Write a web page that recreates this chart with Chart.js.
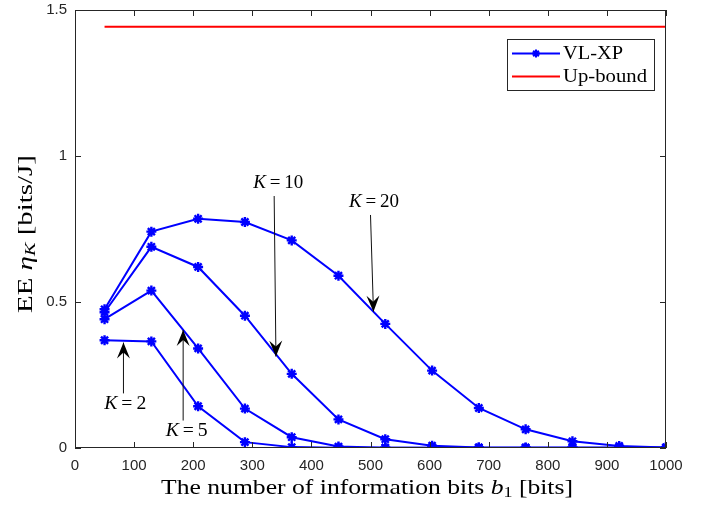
<!DOCTYPE html>
<html>
<head>
<meta charset="utf-8">
<script src="https://cdn.jsdelivr.net/npm/chart.js@4.4.0/dist/chart.umd.min.js"></script>
<style>
  html, body { margin: 0; padding: 0; background: #fff; }
  #wrap { width: 709px; height: 506px; }
</style>
</head>
<body>
<div id="wrap"><canvas id="eeChart" width="709" height="506"></canvas></div>
<script>
// number of information bits b1
const bits = [50, 129.2, 208.3, 287.5, 366.7, 445.8, 525, 604.2, 683.3, 762.5, 841.7, 920.8, 1000];

// EE for each K (VL-XP)
const eeK20 = [0.475, 0.741, 0.785, 0.774, 0.711, 0.590, 0.425, 0.265, 0.137, 0.064, 0.023, 0.007, 0.002];
const eeK10 = [0.465, 0.689, 0.620, 0.453, 0.254, 0.098, 0.030, 0.008, 0.002, 0.001, 0.001, 0.001, 0.001];
const eeK5  = [0.441, 0.539, 0.341, 0.135, 0.037, 0.005, 0.001, 0.001, 0.001, 0.001, 0.001, 0.001, 0.001];
const eeK2  = [0.369, 0.365, 0.143, 0.020, 0.003, 0.001, 0.001, 0.001, 0.001, 0.001, 0.001, 0.001, 0.001];

// upper bound
const upBoundX = [50, 1000];
const upBoundY = [1.443, 1.443];

const xTicks = [0, 100, 200, 300, 400, 500, 600, 700, 800, 900, 1000];
const yTicks = [0, 0.5, 1, 1.5];

// arrow annotations: label position, arrow tail and head (data units)
const annotations = [
  { label: '2',  tx: 85,  ty: 0.150, x0: 82,  y0: 0.187, x1: 82,  y1: 0.361 },
  { label: '5',  tx: 189, ty: 0.059, x0: 183, y0: 0.094, x1: 183, y1: 0.404 },
  { label: '10', tx: 344, ty: 0.906, x0: 337, y0: 0.863, x1: 340, y1: 0.313 },
  { label: '20', tx: 506, ty: 0.840, x0: 500, y0: 0.798, x1: 505, y1: 0.467 }
];

const BLUE = '#0000FF';
const RED = '#FF0000';
const AXIS = '#262626';
const SERIF = '"Liberation Serif", "DejaVu Serif", serif';
const SANS = '"Liberation Sans", Arial, sans-serif';

function toPoints(xs, ys) {
  return xs.map((x, i) => ({ x: x, y: ys[i] }));
}

function blueSeries(values) {
  return {
    data: toPoints(bits, values),
    borderColor: BLUE,
    backgroundColor: BLUE,
    borderWidth: 2,
    pointStyle: 'star',
    pointRadius: 5,
    pointBorderWidth: 2.4,
    showLine: true
  };
}

function setFont(ctx, p, size) {
  const s = p.sub ? size * 0.7 : size;
  ctx.font = (p.italic ? 'italic ' : '') + s + 'px ' + SERIF;
}

function richWidth(ctx, parts, size) {
  let w = 0;
  parts.forEach(p => { setFont(ctx, p, size); w += ctx.measureText(p.t).width; });
  return w;
}

// draws text pieces (normal / italic / subscript), centred on (x, y),
// stretched sideways so the run is `width` px wide (serif font is narrower than the original)
function drawRich(ctx, parts, x, y, size, width) {
  const w = richWidth(ctx, parts, size);
  const k = width ? width / w : 1;
  ctx.save();
  ctx.translate(x, y);
  ctx.scale(k, 1);
  let cx = -w / 2;
  parts.forEach(p => {
    setFont(ctx, p, size);
    ctx.fillText(p.t, cx, p.sub ? size * 0.25 : 0);
    cx += ctx.measureText(p.t).width;
  });
  ctx.restore();
}

function arrowHead(ctx, x0, y0, x1, y1) {
  const ang = Math.atan2(y1 - y0, x1 - x0);
  const len = 16, half = 6.5, back = 10;
  ctx.save();
  ctx.translate(x1, y1);
  ctx.rotate(ang);
  ctx.beginPath();
  ctx.moveTo(0, 0);
  ctx.lineTo(-len, -half);
  ctx.lineTo(-back, 0);
  ctx.lineTo(-len, half);
  ctx.closePath();
  ctx.fill();
  ctx.restore();
}

const decorPlugin = {
  id: 'decor',
  afterDraw(chart) {
    const ctx = chart.ctx;
    const a = chart.chartArea;
    const xs = chart.scales.x, ys = chart.scales.y;
    ctx.save();

    // box and inward ticks
    ctx.strokeStyle = AXIS;
    ctx.lineWidth = 1;
    ctx.strokeRect(a.left + 0.5, a.top + 0.5, a.right - a.left - 1, a.bottom - a.top - 1);
    ctx.beginPath();
    xTicks.forEach(v => {
      const px = Math.round(xs.getPixelForValue(v)) + 0.5;
      ctx.moveTo(px, a.bottom); ctx.lineTo(px, a.bottom - 6);
      ctx.moveTo(px, a.top); ctx.lineTo(px, a.top + 6);
    });
    yTicks.forEach(v => {
      const py = Math.round(ys.getPixelForValue(v)) + 0.5;
      ctx.moveTo(a.left, py); ctx.lineTo(a.left + 6, py);
      ctx.moveTo(a.right, py); ctx.lineTo(a.right - 6, py);
    });
    ctx.stroke();

    // annotations
    ctx.fillStyle = '#000';
    ctx.strokeStyle = '#111';
    ctx.textBaseline = 'middle';
    ctx.textAlign = 'left';
    annotations.forEach(n => {
      const x0 = xs.getPixelForValue(n.x0), y0 = ys.getPixelForValue(n.y0);
      const x1 = xs.getPixelForValue(n.x1), y1 = ys.getPixelForValue(n.y1);
      ctx.lineWidth = 1;
      ctx.beginPath();
      ctx.moveTo(x0, y0);
      ctx.lineTo(x1, y1);
      ctx.stroke();
      arrowHead(ctx, x0, y0, x1, y1);
      const parts = [{ t: 'K', italic: true }, { t: '\u2009=\u2009' }, { t: n.label }];
      drawRich(ctx, parts, xs.getPixelForValue(n.tx), ys.getPixelForValue(n.ty), 18, n.label.length > 1 ? 50 : 42);
    });

    // legend
    const lx = 507, ly = 39, lw = 147, lh = 51;
    ctx.fillStyle = '#fff';
    ctx.fillRect(lx, ly, lw, lh);
    ctx.strokeStyle = AXIS;
    ctx.lineWidth = 1;
    ctx.strokeRect(lx + 0.5, ly + 0.5, lw, lh);
    const entries = [
      { name: 'VL-XP', color: BLUE, marker: true, y: 53.5, w: 60 },
      { name: 'Up-bound', color: RED, marker: false, y: 76.5, w: 84 }
    ];
    entries.forEach(e => {
      ctx.strokeStyle = e.color;
      ctx.lineWidth = 2;
      ctx.beginPath();
      ctx.moveTo(512, e.y); ctx.lineTo(560, e.y);
      ctx.stroke();
      if (e.marker) {
        ctx.fillStyle = e.color;
        Chart.helpers.drawPoint(ctx, { pointStyle: 'star', radius: 4, borderWidth: 2 }, 536, e.y);
      }
      ctx.fillStyle = '#000';
      drawRich(ctx, [{ t: e.name }], 563 + e.w / 2, e.y + 1, 18, e.w);
    });

    // axis titles
    ctx.fillStyle = '#000';
    const xParts = [{ t: 'The number of information bits ' }, { t: 'b', italic: true }, { t: '1', sub: true }, { t: ' [bits]' }];
    drawRich(ctx, xParts, 367, 488, 21, 412);

    const yParts = [{ t: 'EE ' }, { t: 'η', italic: true }, { t: 'K', italic: true, sub: true }, { t: ' [bits/J]' }];
    ctx.save();
    ctx.translate(26, 234);
    ctx.rotate(-Math.PI / 2);
    drawRich(ctx, yParts, 0, 0, 21, 158);
    ctx.restore();

    ctx.restore();
  }
};

new Chart(document.getElementById('eeChart'), {
  type: 'scatter',
  data: {
    datasets: [
      blueSeries(eeK20),
      blueSeries(eeK10),
      blueSeries(eeK5),
      blueSeries(eeK2),
      {
        data: toPoints(upBoundX, upBoundY),
        borderColor: RED,
        backgroundColor: RED,
        borderWidth: 2,
        pointRadius: 0,
        showLine: true
      }
    ]
  },
  options: {
    responsive: false,
    animation: false,
    events: [],
    layout: {
      autoPadding: false,
      padding: { left: 0, top: 10, right: 43, bottom: 0 }
    },
    plugins: {
      legend: { display: false },
      tooltip: { enabled: false }
    },
    scales: {
      x: {
        type: 'linear',
        min: 0,
        max: 1000,
        afterFit: s => { s.height = 58; s.paddingLeft = 0; s.paddingRight = 0; },
        afterBuildTicks: s => { s.ticks = xTicks.map(v => ({ value: v })); },
        grid: { display: false, drawTicks: false },
        border: { display: false },
        ticks: {
          color: AXIS,
          padding: 9,
          font: { family: SANS, size: 15 },
          callback: v => String(v)
        }
      },
      y: {
        min: 0,
        max: 1.5,
        afterFit: s => { s.width = 75; s.paddingTop = 0; s.paddingBottom = 0; },
        afterBuildTicks: s => { s.ticks = yTicks.map(v => ({ value: v })); },
        grid: { display: false, drawTicks: false },
        border: { display: false },
        ticks: {
          color: AXIS,
          padding: 8,
          font: { family: SANS, size: 15 },
          callback: v => String(v)
        }
      }
    }
  },
  plugins: [decorPlugin]
});
</script>
</body>
</html>
